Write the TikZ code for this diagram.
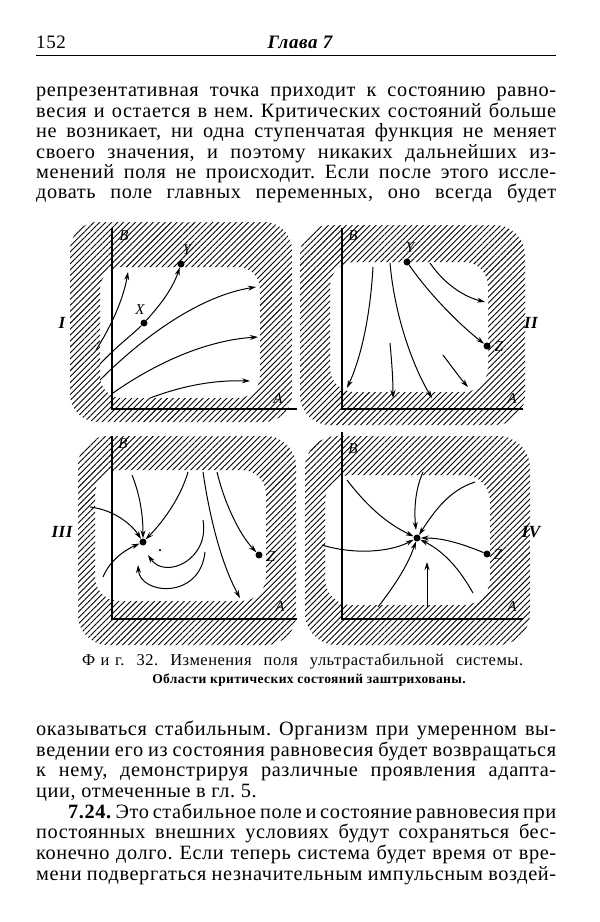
\documentclass[tikz,border=0pt]{standalone}
\usepackage{fontspec}
\setmainfont{Liberation Serif}[LetterSpace=3]
\usetikzlibrary{patterns.meta,arrows.meta}
\begin{document}
\frenchspacing
\begin{tikzpicture}[x=1pt,y=-1pt,
  hatch/.style={pattern={Lines[angle=45,distance=4.2pt,line width=0.9pt]},even odd rule,draw=none},
  axis/.style={line width=1.6pt},
  flow/.style={line width=1pt,-{Stealth[length=8pt,width=5pt]}},
  dot/.style={circle,fill=black,inner sep=0pt,minimum size=7pt},
  lab/.style={font=\fontsize{15}{15}\selectfont\itshape,inner sep=0pt},
  num/.style={font=\fontsize{17}{17}\selectfont\bfseries\itshape,inner sep=0pt},
  body/.style={anchor=base west,inner sep=0pt,font=\fontsize{20.3}{21}\selectfont}]
\fill[white] (0,0) rectangle (600,922);
\useasboundingbox (0,0) rectangle (600,922);
% header
\node[anchor=base west,inner sep=0pt,font=\fontsize{19}{20}\selectfont] (pg) at (36,48) {152};
\node[anchor=base,inner sep=0pt,font=\fontsize{19}{20}\selectfont\bfseries\itshape] (ch) at (300,48) {Глава 7};
\draw[line width=0.9pt] (36,55) -- (556,55);
% top text
\node[body] (t1) at (36,96) {\makebox[520pt][s]{репрезентативная точка приходит к состоянию равно-}};
\node[body] (t2) at (36,117) {\makebox[520pt][s]{весия и остается в нем. Критических состояний больше}};
\node[body] (t3) at (36,137) {\makebox[520pt][s]{не возникает, ни одна ступенчатая функция не меняет}};
\node[body] (t4) at (36,158) {\makebox[520pt][s]{своего значения, и поэтому никаких дальнейших из-}};
\node[body] (t5) at (36,178) {\makebox[520pt][s]{менений поля не происходит. Если после этого иссле-}};
\node[body] (t6) at (36,198) {\makebox[520pt][s]{довать поле главных переменных, оно всегда будет}};
% ---------- Panel I
\path[hatch] (70,222) [rounded corners=28pt] rectangle (292,422) (100,267) [rounded corners=22pt] rectangle (260,398);
\draw[axis] (112,228) -- (112,409) -- (297,409);
\node[dot] (X) at (144,323) {};
\node[dot] (Y) at (181,264) {};
\draw[flow] (96,350) .. controls (115,320) and (124,295) .. (128,272);
\draw[line width=1pt] (100,364) .. controls (118,345) and (132,335) .. (X);
\draw[flow] (X) .. controls (160,305) and (172,290) .. (Y);
\draw[flow] (100,380) .. controls (150,330) and (205,295) .. (256,287);
\draw[flow] (113,393) .. controls (160,360) and (210,340) .. (258,337);
\draw[flow] (150,398) .. controls (185,385) and (215,380) .. (250,381);
\node[lab] (B1) at (124,236) {B};
\node[lab] (Y1) at (187,250) {Y};
\node[lab] (X1) at (140,310) {X};
\node[lab] (A1) at (278,399) {A};
\node[num] (I) at (62,323) {I};
% ---------- Panel II
\path[hatch] (300,225) [rounded corners=30pt] rectangle (525,425) (330,262) [rounded corners=24pt] rectangle (488,392);
\draw[axis] (342,228) -- (342,409) -- (523,409);
\node[dot] (Y2) at (407,262) {};
\node[dot] (Z2) at (487,346) {};
\draw[flow] (Y2) .. controls (430,295) and (460,325) .. (Z2);
\draw[flow] (430,263) .. controls (445,285) and (465,297) .. (485,302);
\draw[flow] (373,267) .. controls (370,320) and (360,360) .. (347,388);
\draw[flow] (390,263) .. controls (395,320) and (415,370) .. (432,398);
\draw[flow] (390,343) .. controls (392,365) and (393,380) .. (393,398);
\draw[flow] (443,355) .. controls (452,367) and (460,378) .. (468,387);
\node[lab] (B2) at (353,236) {B};
\node[lab] (Yb) at (410,248) {Y};
\node[lab] (Zb) at (499,347) {Z};
\node[lab] (A2) at (512,399) {A};
\node[num] (II) at (531,323) {II};
% ---------- Panel III
\path[hatch] (78,436) [rounded corners=30pt] rectangle (296,645) (95,470) [rounded corners=24pt] rectangle (266,601);
\draw[axis] (112,436) -- (112,619) -- (297,619);
\node[dot] (P3) at (143,542) {};
\node[circle,fill=black,inner sep=0pt,minimum size=2.5pt] (q3) at (160,550) {};
\node[dot] (Z3) at (259,555) {};
\draw[flow] (90,507) .. controls (115,510) and (132,525) .. (P3);
\draw[flow] (103,577) .. controls (110,560) and (125,550) .. (P3);
\draw[flow] (132,475) .. controls (140,495) and (143,515) .. (P3);
\draw[flow] (188,472) .. controls (180,500) and (160,525) .. (P3);
\draw[flow] (217,472) .. controls (225,505) and (240,535) .. (Z3);
\draw[flow] (203,472) .. controls (210,520) and (222,565) .. (240,598);
\draw[flow] (203,520) .. controls (210,560) and (165,580) .. (148,555);
\draw[flow] (205,552) .. controls (200,600) and (140,595) .. (138,565);
\node[lab] (B3) at (123,444) {B};
\node[lab] (Zc) at (271,557) {Z};
\node[lab] (A3) at (280,607) {A};
\node[num] (III) at (62,532) {III};
% ---------- Panel IV
\path[hatch] (305,436) [rounded corners=32pt] rectangle (530,645) (325,475) [rounded corners=26pt] rectangle (490,605);
\draw[axis] (342,432) -- (342,619) -- (523,619);
\node[dot] (C4) at (417,538) {};
\node[dot] (Z4) at (487,554) {};
\draw[flow] (347,480) .. controls (370,510) and (390,525) .. (C4);
\draw[flow] (423,472) .. controls (415,490) and (414,510) .. (416,530);
\draw[flow] (475,482) .. controls (450,490) and (435,510) .. (C4);
\draw[flow] (322,545) .. controls (355,555) and (390,552) .. (C4);
\draw[flow] (Z4) .. controls (465,545) and (445,538) .. (C4);
\draw[flow] (378,607) .. controls (395,585) and (408,565) .. (C4);
\draw[flow] (427,607) -- (427,562);
\draw[flow] (473,593) .. controls (460,570) and (445,552) .. (C4);
\node[lab] (B4) at (353,449) {B};
\node[lab] (Zd) at (498,555) {Z};
\node[lab] (A4) at (512,607) {A};
\node[num] (IV) at (531,532) {IV};
% caption
\node[anchor=base west,inner sep=0pt,font=\fontsize{16.5}{16}\selectfont] (cap1) at (82,665) {\makebox[441pt][s]{Ф\,\,и\,\,г. 32. Изменения поля ультрастабильной системы.}};
\node[anchor=base,inner sep=0pt,font=\fontsize{13.5}{14}\selectfont\bfseries] (cap2) at (309,683) {Области критических состояний заштрихованы.};
% bottom text
\node[body] (b1) at (36,735) {\makebox[520pt][s]{оказываться стабильным. Организм при умеренном вы-}};
\node[body] (b2) at (36,756) {\makebox[520pt][s]{ведении его из состояния равновесия будет возвращаться}};
\node[body] (b3) at (36,776) {\makebox[520pt][s]{к нему, демонстрируя различные проявления адапта-}};
\node[body] (b4) at (36,797) {ции, отмеченные в гл. 5.};
\node[body] (b5) at (68,818) {\makebox[488pt][s]{\textbf{7.24.} Это стабильное поле и состояние равновесия при}};
\node[body] (b6) at (36,838) {\makebox[520pt][s]{постоянных внешних условиях будут сохраняться бес-}};
\node[body] (b7) at (36,859) {\makebox[520pt][s]{конечно долго. Если теперь система будет время от вре-}};
\node[body] (b8) at (36,880) {\makebox[520pt][s]{мени подвергаться незначительным импульсным воздей-}};
\end{tikzpicture}
\end{document}
